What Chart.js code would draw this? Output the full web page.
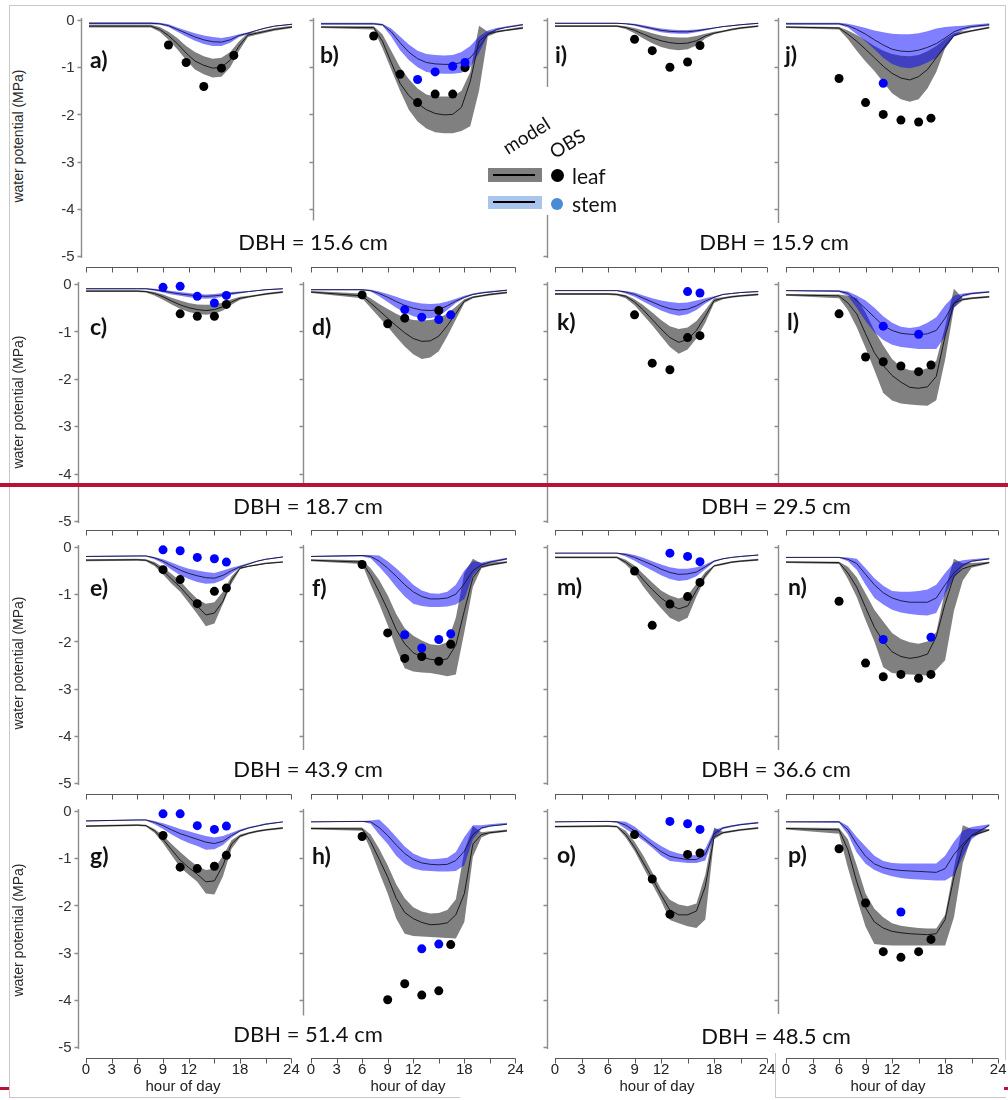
<!DOCTYPE html>
<html>
<head>
<meta charset="utf-8">
<script src="https://cdn.jsdelivr.net/npm/chart.js@4.4.1/dist/chart.umd.min.js"></script>
<style>
  body { margin: 0; background: #fff; }
  #page { position: relative; width: 1008px; height: 1100px; overflow: hidden; background: #fff; }
  #page canvas { position: absolute; z-index: 1; }
  .txt { position: absolute; white-space: nowrap; color: #111; z-index: 3; line-height: 1; }
  .letter { font: bold 23px Lato, sans-serif; transform: translateY(-50%); }
  .dbh { font: 22px Lato, sans-serif; transform: translate(-50%, -50%); }
  .ytitle { font: 14px "Liberation Sans", Arial, sans-serif; color: #2a2a2a; transform: translate(-50%, -50%) rotate(-90deg); }
  .xtitle { font: 15px "Liberation Sans", Arial, sans-serif; color: #222; transform: translate(-50%, -50%); }
  .rule { position: absolute; z-index: 0; }
  .box { position: absolute; z-index: 2; }
</style>
</head>
<body>
<div id="page"></div>
<script>
// hours of the model output
const hours = [0, 6, 7, 8, 9, 10, 11, 12, 13, 14, 15, 16, 17, 18, 19, 20, 21, 23];
// hours of the field measurements
const obsHoursDay = [9, 11, 13, 15, 16.4];
const obsHoursDawn = [6, 9, 11, 13, 15, 16.4];
const hourLabels = [0, 3, 6, 9, 12, 18, 24];
const yLabels = [0, -1, -2, -3, -4, -5];

// a) DBH = 15.6 cm
const leafMid_a = [-0.13, -0.13, -0.13, -0.2, -0.33, -0.5, -0.7, -0.87, -0.96, -1.02, -1.0, -0.85, -0.55, -0.32, -0.28, -0.24, -0.2, -0.15];
const leafLo_a  = [-0.16, -0.16, -0.16, -0.25, -0.42, -0.62, -0.85, -1.05, -1.15, -1.22, -1.2, -1.0, -0.65, -0.36, -0.31, -0.27, -0.23, -0.17];
const leafHi_a  = [-0.1, -0.1, -0.1, -0.15, -0.25, -0.38, -0.55, -0.68, -0.77, -0.82, -0.8, -0.68, -0.45, -0.28, -0.25, -0.21, -0.17, -0.12];
const stemMid_a = [-0.07, -0.07, -0.07, -0.08, -0.12, -0.2, -0.28, -0.36, -0.42, -0.46, -0.47, -0.42, -0.33, -0.28, -0.22, -0.17, -0.13, -0.09];
const stemLo_a  = [-0.09, -0.09, -0.09, -0.1, -0.15, -0.25, -0.35, -0.44, -0.51, -0.55, -0.55, -0.48, -0.36, -0.3, -0.23, -0.18, -0.14, -0.1];
const stemHi_a  = [-0.05, -0.05, -0.05, -0.06, -0.09, -0.16, -0.22, -0.28, -0.33, -0.36, -0.38, -0.35, -0.3, -0.26, -0.21, -0.16, -0.12, -0.08];
const obsLeaf_a = [-0.53, -0.9, -1.41, -1.02, -0.75];
const obsStem_a = [null, null, null, null, null];

// b)
const leafMid_b = [-0.15, -0.16, -0.45, -0.9, -1.34, -1.6, -1.77, -1.9, -1.98, -2.01, -2.0, -1.85, -1.3, -0.45, -0.3, -0.25, -0.22, -0.17];
const leafLo_b  = [-0.17, -0.2, -0.6, -1.05, -1.5, -1.9, -2.15, -2.3, -2.38, -2.4, -2.4, -2.35, -2.25, -1.5, -0.35, -0.27, -0.24, -0.19];
const leafHi_b  = [-0.13, -0.13, -0.3, -0.65, -1.0, -1.25, -1.45, -1.58, -1.62, -1.62, -1.62, -1.5, -1.1, -0.12, -0.25, -0.22, -0.2, -0.14];
const stemMid_b = [-0.08, -0.08, -0.1, -0.25, -0.48, -0.68, -0.82, -0.9, -0.93, -0.94, -0.94, -0.9, -0.8, -0.58, -0.3, -0.2, -0.16, -0.1];
const stemLo_b  = [-0.1, -0.1, -0.12, -0.35, -0.64, -0.85, -1.0, -1.1, -1.13, -1.14, -1.14, -1.12, -1.0, -0.7, -0.32, -0.22, -0.17, -0.11];
const stemHi_b  = [-0.06, -0.06, -0.08, -0.18, -0.35, -0.52, -0.65, -0.72, -0.74, -0.75, -0.74, -0.68, -0.55, -0.35, -0.22, -0.17, -0.14, -0.08];
const obsLeaf_b = [-0.34, -1.15, -1.75, -1.57, -1.57, -1.01];
const obsStem_b = [null, null, -1.26, -1.1, -0.98, -0.9];

// i) DBH = 15.9 cm
const leafMid_i = [-0.13, -0.13, -0.13, -0.16, -0.22, -0.3, -0.38, -0.44, -0.48, -0.5, -0.49, -0.44, -0.34, -0.28, -0.24, -0.2, -0.17, -0.13];
const leafLo_i  = [-0.15, -0.15, -0.15, -0.19, -0.28, -0.39, -0.49, -0.57, -0.62, -0.64, -0.62, -0.54, -0.39, -0.3, -0.26, -0.22, -0.19, -0.15];
const leafHi_i  = [-0.11, -0.11, -0.11, -0.13, -0.17, -0.22, -0.28, -0.33, -0.36, -0.37, -0.37, -0.34, -0.29, -0.25, -0.22, -0.18, -0.15, -0.11];
const stemMid_i = [-0.07, -0.07, -0.07, -0.08, -0.1, -0.14, -0.18, -0.22, -0.24, -0.25, -0.25, -0.23, -0.2, -0.17, -0.14, -0.12, -0.1, -0.07];
const stemLo_i  = [-0.08, -0.08, -0.08, -0.09, -0.12, -0.17, -0.21, -0.26, -0.28, -0.29, -0.29, -0.26, -0.22, -0.18, -0.15, -0.13, -0.11, -0.08];
const stemHi_i  = [-0.06, -0.06, -0.06, -0.07, -0.08, -0.11, -0.15, -0.18, -0.2, -0.21, -0.21, -0.2, -0.18, -0.16, -0.13, -0.11, -0.09, -0.06];
const obsLeaf_i = [-0.41, -0.65, -1.0, -0.89, -0.54];
const obsStem_i = [null, null, null, null, null];

// j)
const leafMid_j = [-0.15, -0.17, -0.3, -0.45, -0.62, -0.8, -0.98, -1.13, -1.23, -1.27, -1.2, -1.05, -0.8, -0.55, -0.33, -0.27, -0.23, -0.16];
const leafLo_j  = [-0.17, -0.2, -0.4, -0.65, -0.88, -1.08, -1.32, -1.55, -1.68, -1.73, -1.68, -1.45, -1.1, -0.6, -0.35, -0.29, -0.25, -0.18];
const leafHi_j  = [-0.13, -0.15, -0.22, -0.32, -0.43, -0.55, -0.65, -0.72, -0.76, -0.77, -0.74, -0.66, -0.55, -0.4, -0.28, -0.24, -0.21, -0.14];
const stemMid_j = [-0.08, -0.08, -0.12, -0.2, -0.3, -0.42, -0.53, -0.62, -0.66, -0.67, -0.64, -0.58, -0.5, -0.38, -0.25, -0.18, -0.14, -0.1];
const stemLo_j  = [-0.1, -0.1, -0.16, -0.3, -0.45, -0.62, -0.8, -0.93, -1.0, -1.02, -0.98, -0.9, -0.8, -0.6, -0.35, -0.22, -0.17, -0.12];
const stemHi_j  = [-0.06, -0.06, -0.08, -0.12, -0.17, -0.22, -0.26, -0.29, -0.3, -0.3, -0.28, -0.24, -0.18, -0.15, -0.13, -0.12, -0.1, -0.07];
const obsLeaf_j = [-1.24, -1.75, -2.0, -2.12, -2.16, -2.08];
const obsStem_j = [null, null, -1.34, null, null, null];

// c) DBH = 18.7 cm
const leafMid_c = [-0.15, -0.15, -0.16, -0.2, -0.27, -0.36, -0.44, -0.5, -0.54, -0.56, -0.54, -0.48, -0.38, -0.3, -0.27, -0.24, -0.21, -0.17];
const leafLo_c  = [-0.17, -0.17, -0.18, -0.24, -0.33, -0.43, -0.52, -0.59, -0.63, -0.65, -0.63, -0.56, -0.44, -0.33, -0.29, -0.26, -0.23, -0.19];
const leafHi_c  = [-0.13, -0.13, -0.14, -0.17, -0.22, -0.29, -0.35, -0.4, -0.43, -0.44, -0.43, -0.39, -0.32, -0.27, -0.25, -0.22, -0.19, -0.15];
const stemMid_c = [-0.1, -0.1, -0.1, -0.12, -0.15, -0.18, -0.21, -0.23, -0.25, -0.26, -0.25, -0.23, -0.2, -0.18, -0.16, -0.14, -0.12, -0.1];
const stemLo_c  = [-0.11, -0.11, -0.11, -0.14, -0.18, -0.22, -0.25, -0.28, -0.3, -0.31, -0.3, -0.27, -0.23, -0.2, -0.17, -0.15, -0.13, -0.11];
const stemHi_c  = [-0.09, -0.09, -0.09, -0.1, -0.12, -0.15, -0.17, -0.19, -0.21, -0.22, -0.21, -0.19, -0.17, -0.16, -0.15, -0.13, -0.11, -0.09];
const obsLeaf_c = [null, -0.63, -0.68, -0.68, -0.43];
const obsStem_c = [-0.07, -0.05, -0.26, -0.4, -0.24];

// d)
const leafMid_d = [-0.17, -0.25, -0.4, -0.56, -0.72, -0.88, -1.03, -1.15, -1.21, -1.2, -1.1, -0.88, -0.62, -0.36, -0.28, -0.25, -0.22, -0.18];
const leafLo_d  = [-0.19, -0.3, -0.5, -0.7, -0.9, -1.12, -1.32, -1.48, -1.58, -1.55, -1.42, -1.1, -0.75, -0.4, -0.3, -0.27, -0.24, -0.2];
const leafHi_d  = [-0.15, -0.2, -0.3, -0.42, -0.53, -0.63, -0.71, -0.76, -0.77, -0.76, -0.72, -0.62, -0.48, -0.32, -0.26, -0.23, -0.2, -0.16];
const stemMid_d = [-0.12, -0.12, -0.14, -0.2, -0.28, -0.37, -0.45, -0.51, -0.55, -0.56, -0.54, -0.46, -0.36, -0.28, -0.22, -0.19, -0.17, -0.13];
const stemLo_d  = [-0.13, -0.13, -0.16, -0.26, -0.38, -0.5, -0.6, -0.68, -0.72, -0.72, -0.68, -0.55, -0.4, -0.3, -0.23, -0.2, -0.18, -0.14];
const stemHi_d  = [-0.11, -0.11, -0.12, -0.16, -0.21, -0.27, -0.33, -0.38, -0.41, -0.42, -0.41, -0.37, -0.31, -0.25, -0.2, -0.17, -0.15, -0.12];
const obsLeaf_d = [-0.23, -0.84, -0.72, null, -0.56, null];
const obsStem_d = [null, null, -0.54, -0.7, -0.75, -0.65];

// k) DBH = 29.5 cm
const leafMid_k = [-0.21, -0.21, -0.22, -0.26, -0.38, -0.55, -0.75, -0.95, -1.13, -1.23, -1.17, -0.98, -0.68, -0.35, -0.3, -0.27, -0.25, -0.22];
const leafLo_k  = [-0.23, -0.23, -0.24, -0.3, -0.45, -0.66, -0.87, -1.1, -1.33, -1.47, -1.38, -1.15, -0.82, -0.4, -0.32, -0.29, -0.27, -0.24];
const leafHi_k  = [-0.19, -0.19, -0.2, -0.23, -0.32, -0.45, -0.6, -0.76, -0.89, -0.95, -0.92, -0.78, -0.55, -0.3, -0.28, -0.25, -0.23, -0.2];
const stemMid_k = [-0.14, -0.14, -0.14, -0.17, -0.22, -0.3, -0.38, -0.46, -0.52, -0.55, -0.53, -0.46, -0.36, -0.28, -0.22, -0.2, -0.18, -0.16];
const stemLo_k  = [-0.15, -0.15, -0.15, -0.2, -0.27, -0.37, -0.47, -0.56, -0.63, -0.67, -0.64, -0.55, -0.41, -0.3, -0.23, -0.21, -0.19, -0.17];
const stemHi_k  = [-0.13, -0.13, -0.13, -0.15, -0.18, -0.24, -0.3, -0.35, -0.38, -0.4, -0.39, -0.35, -0.3, -0.26, -0.21, -0.19, -0.17, -0.15];
const obsLeaf_k = [-0.65, -1.67, -1.81, -1.13, -1.09];
const obsStem_k = [null, null, null, -0.16, -0.19];

// l)
const leafMid_l = [-0.23, -0.25, -0.4, -0.63, -1.05, -1.45, -1.72, -1.93, -2.07, -2.18, -2.2, -2.17, -1.95, -1.1, -0.4, -0.33, -0.3, -0.27];
const leafLo_l  = [-0.25, -0.3, -0.55, -0.91, -1.35, -1.82, -2.3, -2.46, -2.52, -2.54, -2.56, -2.57, -2.45, -1.6, -0.5, -0.35, -0.32, -0.29];
const leafHi_l  = [-0.21, -0.22, -0.25, -0.3, -0.6, -0.98, -1.3, -1.58, -1.75, -1.82, -1.83, -1.78, -1.62, -0.9, -0.1, -0.3, -0.28, -0.25];
const stemMid_l = [-0.14, -0.15, -0.2, -0.35, -0.52, -0.7, -0.88, -0.98, -1.04, -1.06, -1.07, -1.05, -0.98, -0.72, -0.4, -0.24, -0.2, -0.17];
const stemLo_l  = [-0.15, -0.17, -0.25, -0.5, -0.78, -1.02, -1.18, -1.28, -1.33, -1.35, -1.37, -1.37, -1.37, -1.1, -0.5, -0.27, -0.22, -0.18];
const stemHi_l  = [-0.13, -0.13, -0.16, -0.24, -0.35, -0.5, -0.68, -0.82, -0.9, -0.93, -0.9, -0.82, -0.7, -0.45, -0.25, -0.2, -0.18, -0.15];
const obsLeaf_l = [-0.63, -1.54, -1.64, -1.73, -1.85, -1.71];
const obsStem_l = [null, null, -0.89, null, -1.06, null];

// e) DBH = 43.9 cm
const leafMid_e = [-0.28, -0.27, -0.28, -0.36, -0.5, -0.68, -0.85, -1.05, -1.25, -1.44, -1.4, -1.15, -0.7, -0.45, -0.41, -0.38, -0.35, -0.32];
const leafLo_e  = [-0.3, -0.29, -0.3, -0.4, -0.58, -0.78, -0.95, -1.18, -1.42, -1.68, -1.62, -1.2, -0.78, -0.47, -0.42, -0.39, -0.36, -0.33];
const leafHi_e  = [-0.26, -0.25, -0.26, -0.32, -0.43, -0.57, -0.72, -0.92, -1.1, -1.2, -1.17, -0.95, -0.62, -0.43, -0.39, -0.36, -0.33, -0.3];
const stemMid_e = [-0.2, -0.19, -0.19, -0.23, -0.3, -0.4, -0.49, -0.56, -0.61, -0.65, -0.66, -0.6, -0.5, -0.42, -0.36, -0.3, -0.26, -0.21];
const stemLo_e  = [-0.21, -0.2, -0.2, -0.26, -0.35, -0.48, -0.6, -0.68, -0.74, -0.78, -0.77, -0.7, -0.56, -0.44, -0.37, -0.31, -0.27, -0.22];
const stemHi_e  = [-0.19, -0.18, -0.18, -0.21, -0.26, -0.33, -0.4, -0.46, -0.5, -0.53, -0.55, -0.5, -0.44, -0.39, -0.34, -0.29, -0.25, -0.2];
const obsLeaf_e = [-0.48, -0.69, -1.2, -0.94, -0.87];
const obsStem_e = [-0.06, -0.08, -0.22, -0.25, -0.32];

// f)
const leafMid_f = [-0.28, -0.32, -0.6, -0.95, -1.33, -1.75, -2.05, -2.24, -2.33, -2.38, -2.4, -2.37, -2.08, -1.35, -0.65, -0.42, -0.38, -0.32];
const leafLo_f  = [-0.3, -0.36, -0.8, -1.2, -1.65, -2.15, -2.57, -2.64, -2.66, -2.67, -2.7, -2.74, -2.7, -1.8, -0.85, -0.45, -0.4, -0.34];
const leafHi_f  = [-0.26, -0.28, -0.45, -0.7, -1.02, -1.42, -1.72, -1.88, -1.98, -2.06, -2.08, -2.02, -1.5, -0.55, -0.25, -0.35, -0.33, -0.3];
const stemMid_f = [-0.2, -0.18, -0.2, -0.3, -0.45, -0.62, -0.8, -0.95, -1.05, -1.1, -1.1, -1.08, -1.0, -0.78, -0.5, -0.38, -0.32, -0.25];
const stemLo_f  = [-0.21, -0.2, -0.24, -0.42, -0.62, -0.85, -1.05, -1.2, -1.25, -1.27, -1.27, -1.26, -1.22, -1.1, -0.6, -0.4, -0.34, -0.27];
const stemHi_f  = [-0.19, -0.17, -0.17, -0.18, -0.3, -0.45, -0.62, -0.8, -0.92, -0.98, -0.99, -0.95, -0.8, -0.5, -0.3, -0.33, -0.29, -0.23];
const obsLeaf_f = [-0.37, -1.82, -2.36, -2.32, -2.42, -2.06];
const obsStem_f = [null, null, -1.86, -2.14, -1.96, -1.84];

// m) DBH = 36.6 cm
const leafMid_m = [-0.22, -0.22, -0.22, -0.32, -0.47, -0.7, -0.9, -1.08, -1.22, -1.31, -1.25, -0.92, -0.6, -0.4, -0.36, -0.32, -0.3, -0.27];
const leafLo_m  = [-0.24, -0.24, -0.24, -0.37, -0.56, -0.84, -1.08, -1.3, -1.5, -1.59, -1.5, -1.05, -0.66, -0.42, -0.38, -0.34, -0.32, -0.29];
const leafHi_m  = [-0.2, -0.2, -0.2, -0.27, -0.39, -0.57, -0.75, -0.92, -1.03, -1.09, -1.03, -0.78, -0.53, -0.38, -0.34, -0.3, -0.28, -0.25];
const stemMid_m = [-0.13, -0.13, -0.13, -0.16, -0.22, -0.3, -0.38, -0.47, -0.54, -0.58, -0.57, -0.53, -0.42, -0.3, -0.25, -0.22, -0.2, -0.17];
const stemLo_m  = [-0.14, -0.14, -0.14, -0.2, -0.29, -0.4, -0.5, -0.6, -0.68, -0.72, -0.7, -0.62, -0.47, -0.32, -0.26, -0.23, -0.21, -0.18];
const stemHi_m  = [-0.12, -0.12, -0.12, -0.13, -0.17, -0.23, -0.3, -0.37, -0.43, -0.46, -0.46, -0.43, -0.37, -0.28, -0.24, -0.21, -0.19, -0.16];
const obsLeaf_m = [-0.51, -1.66, -1.21, -1.05, -0.75];
const obsStem_m = [null, null, -0.13, -0.2, -0.31];

// n)
const leafMid_n = [-0.32, -0.33, -0.55, -0.85, -1.28, -1.7, -2.0, -2.22, -2.32, -2.36, -2.33, -2.27, -1.9, -1.2, -0.62, -0.46, -0.4, -0.33];
const leafLo_n  = [-0.34, -0.36, -0.68, -1.06, -1.55, -2.0, -2.55, -2.67, -2.69, -2.7, -2.71, -2.72, -2.6, -2.4, -1.35, -0.71, -0.44, -0.35];
const leafHi_n  = [-0.3, -0.31, -0.42, -0.64, -0.98, -1.33, -1.58, -1.82, -1.95, -2.02, -2.05, -2.0, -1.8, -0.92, -0.25, -0.35, -0.34, -0.31];
const stemMid_n = [-0.22, -0.22, -0.26, -0.35, -0.58, -0.8, -0.97, -1.08, -1.14, -1.17, -1.17, -1.17, -1.08, -0.8, -0.55, -0.38, -0.3, -0.25];
const stemLo_n  = [-0.23, -0.23, -0.3, -0.48, -0.8, -1.08, -1.22, -1.33, -1.39, -1.42, -1.44, -1.45, -1.4, -1.0, -0.65, -0.42, -0.32, -0.26];
const stemHi_n  = [-0.21, -0.21, -0.22, -0.25, -0.45, -0.66, -0.82, -0.93, -0.95, -0.95, -0.93, -0.9, -0.8, -0.55, -0.33, -0.28, -0.26, -0.23];
const obsLeaf_n = [-1.15, -2.46, -2.75, -2.7, -2.78, -2.7];
const obsStem_n = [null, null, -1.96, null, null, -1.91];

// g) DBH = 51.4 cm
const leafMid_g = [-0.32, -0.3, -0.31, -0.42, -0.6, -0.82, -1.04, -1.2, -1.34, -1.5, -1.48, -1.15, -0.7, -0.53, -0.47, -0.43, -0.4, -0.36];
const leafLo_g  = [-0.34, -0.32, -0.33, -0.46, -0.68, -0.94, -1.19, -1.35, -1.5, -1.75, -1.77, -1.38, -0.8, -0.56, -0.49, -0.45, -0.42, -0.38];
const leafHi_g  = [-0.3, -0.28, -0.29, -0.38, -0.52, -0.7, -0.87, -1.03, -1.17, -1.25, -1.22, -0.95, -0.62, -0.5, -0.45, -0.41, -0.38, -0.34];
const stemMid_g = [-0.21, -0.19, -0.19, -0.24, -0.31, -0.4, -0.48, -0.54, -0.6, -0.66, -0.69, -0.64, -0.52, -0.42, -0.36, -0.32, -0.28, -0.23];
const stemLo_g  = [-0.22, -0.2, -0.2, -0.28, -0.38, -0.5, -0.6, -0.68, -0.74, -0.82, -0.81, -0.72, -0.56, -0.44, -0.37, -0.33, -0.29, -0.24];
const stemHi_g  = [-0.2, -0.18, -0.18, -0.21, -0.26, -0.32, -0.38, -0.43, -0.48, -0.53, -0.56, -0.53, -0.46, -0.39, -0.34, -0.3, -0.26, -0.22];
const obsLeaf_g = [-0.52, -1.19, -1.22, -1.17, -0.94];
const obsStem_g = [-0.06, -0.06, -0.31, -0.39, -0.32];

// h)
const leafMid_h = [-0.37, -0.38, -0.65, -1.02, -1.4, -1.85, -2.15, -2.28, -2.36, -2.41, -2.4, -2.37, -2.2, -1.75, -0.7, -0.5, -0.46, -0.42];
const leafLo_h  = [-0.39, -0.42, -0.82, -1.3, -1.75, -2.28, -2.6, -2.65, -2.66, -2.67, -2.68, -2.69, -2.7, -2.35, -0.97, -0.56, -0.48, -0.44];
const leafHi_h  = [-0.35, -0.35, -0.5, -0.8, -1.15, -1.55, -1.85, -2.04, -2.13, -2.17, -2.16, -2.1, -1.87, -0.85, -0.32, -0.45, -0.43, -0.39];
const stemMid_h = [-0.23, -0.22, -0.23, -0.35, -0.52, -0.72, -0.9, -1.03, -1.1, -1.13, -1.14, -1.13, -1.05, -0.85, -0.5, -0.36, -0.32, -0.28];
const stemLo_h  = [-0.24, -0.23, -0.27, -0.5, -0.7, -0.95, -1.12, -1.22, -1.26, -1.27, -1.28, -1.28, -1.27, -1.15, -0.6, -0.38, -0.33, -0.29];
const stemHi_h  = [-0.22, -0.21, -0.2, -0.18, -0.35, -0.55, -0.75, -0.9, -0.98, -1.02, -1.01, -0.99, -0.87, -0.55, -0.3, -0.3, -0.28, -0.25];
const obsLeaf_h = [-0.54, -4.0, -3.66, -3.9, -3.81, -2.83];
const obsStem_h = [null, null, null, -2.92, -2.82, null];

// o) DBH = 48.5 cm
const leafMid_o = [-0.33, -0.32, -0.33, -0.5, -0.77, -1.1, -1.42, -1.78, -2.1, -2.2, -2.2, -2.12, -1.6, -0.55, -0.46, -0.43, -0.4, -0.36];
const leafLo_o  = [-0.35, -0.34, -0.35, -0.56, -0.85, -1.2, -1.55, -1.9, -2.31, -2.38, -2.44, -2.48, -2.3, -0.6, -0.48, -0.45, -0.42, -0.38];
const leafHi_o  = [-0.31, -0.3, -0.31, -0.42, -0.65, -0.95, -1.3, -1.65, -1.88, -1.98, -2.02, -1.96, -1.35, -0.35, -0.44, -0.41, -0.38, -0.34];
const stemMid_o = [-0.23, -0.22, -0.23, -0.3, -0.42, -0.57, -0.72, -0.86, -0.96, -1.0, -1.03, -1.03, -0.92, -0.48, -0.36, -0.32, -0.29, -0.25];
const stemLo_o  = [-0.24, -0.23, -0.25, -0.38, -0.5, -0.63, -0.78, -0.95, -1.06, -1.08, -1.1, -1.1, -1.05, -0.55, -0.38, -0.34, -0.3, -0.26];
const stemHi_o  = [-0.22, -0.21, -0.21, -0.23, -0.33, -0.48, -0.62, -0.74, -0.84, -0.9, -0.93, -0.94, -0.8, -0.4, -0.34, -0.3, -0.27, -0.23];
const obsLeaf_o = [-0.5, -1.44, -2.19, -0.92, -0.89];
const obsStem_o = [null, null, -0.22, -0.27, -0.39];

// p)
const leafMid_p = [-0.37, -0.4, -0.82, -1.5, -2.05, -2.35, -2.48, -2.55, -2.58, -2.6, -2.61, -2.62, -2.6, -2.3, -1.4, -0.76, -0.52, -0.4];
const leafLo_p  = [-0.39, -0.48, -1.2, -1.85, -2.45, -2.82, -2.84, -2.85, -2.85, -2.85, -2.85, -2.85, -2.85, -2.85, -2.25, -1.1, -0.55, -0.42];
const leafHi_p  = [-0.35, -0.36, -0.6, -1.15, -1.75, -2.07, -2.25, -2.38, -2.43, -2.46, -2.48, -2.49, -2.49, -2.2, -1.2, -0.3, -0.38, -0.38];
const stemMid_p = [-0.23, -0.23, -0.4, -0.7, -0.96, -1.12, -1.2, -1.24, -1.26, -1.27, -1.28, -1.29, -1.3, -1.22, -0.92, -0.7, -0.52, -0.3];
const stemLo_p  = [-0.24, -0.25, -0.5, -0.88, -1.12, -1.25, -1.33, -1.38, -1.42, -1.44, -1.45, -1.46, -1.47, -1.47, -1.36, -0.97, -0.6, -0.32];
const stemHi_p  = [-0.22, -0.21, -0.32, -0.55, -0.75, -0.95, -1.06, -1.1, -1.11, -1.11, -1.11, -1.11, -1.11, -0.95, -0.65, -0.42, -0.34, -0.28];
const obsLeaf_p = [-0.8, -1.95, -2.98, -3.1, -2.98, -2.72];
const obsStem_p = [null, null, null, -2.14, null, null];

const dbhLabels = ['DBH = 15.6 cm', 'DBH = 15.9 cm', 'DBH = 18.7 cm', 'DBH = 29.5 cm',
                   'DBH = 43.9 cm', 'DBH = 36.6 cm', 'DBH = 51.4 cm', 'DBH = 48.5 cm'];

// colours
const GRAY_BAND = 'rgb(128,128,128)';
const BLUE_BAND = 'rgba(0,0,255,0.5)';

// layout of each panel: x0 = pixel of hour 0, px = pixels per hour, y0 = pixel of 0 MPa, unit = pixels per MPa
const panels = [
  {k: 'a', x0: 89,  px: 8.83, y0: 20,    unit: 47.2, yEnd: -5.04, labels: true,  top: false, bottom: false, obs: obsHoursDay,  lx: 90,  ly: 59},
  {k: 'b', x0: 321, px: 8.78, y0: 20,    unit: 47.2, yEnd: -4.25, labels: false, top: false, bottom: false, obs: obsHoursDawn, lx: 320, ly: 54},
  {k: 'i', x0: 555, px: 8.84, y0: 20,    unit: 47.2, yEnd: -5.04, labels: false, top: false, bottom: false, obs: obsHoursDay,  lx: 555, ly: 54},
  {k: 'j', x0: 786, px: 8.84, y0: 20,    unit: 47.2, yEnd: -4.3,  labels: false, top: false, bottom: false, obs: obsHoursDawn, lx: 785, ly: 54},
  {k: 'c', x0: 86,  px: 8.56, y0: 283.5, unit: 47.4, yEnd: -5.04, labels: true,  top: true,  bottom: false, obs: obsHoursDay,  lx: 90,  ly: 326},
  {k: 'd', x0: 311, px: 8.52, y0: 283.5, unit: 47.4, yEnd: -4.25, labels: false, top: true,  bottom: false, obs: obsHoursDawn, lx: 312, ly: 326},
  {k: 'k', x0: 555, px: 8.84, y0: 283.5, unit: 47.4, yEnd: -5.04, labels: false, top: true,  bottom: false, obs: obsHoursDay,  lx: 557, ly: 321},
  {k: 'l', x0: 786, px: 8.84, y0: 283.5, unit: 47.4, yEnd: -4.25, labels: false, top: true,  bottom: false, obs: obsHoursDawn, lx: 787, ly: 321},
  {k: 'e', x0: 86,  px: 8.56, y0: 546.7, unit: 47.2, yEnd: -5.04, labels: true,  top: true,  bottom: false, obs: obsHoursDay,  lx: 90,  ly: 587},
  {k: 'f', x0: 311, px: 8.52, y0: 546.7, unit: 47.2, yEnd: -4.3,  labels: false, top: true,  bottom: false, obs: obsHoursDawn, lx: 312, ly: 587},
  {k: 'm', x0: 555, px: 8.84, y0: 546.7, unit: 47.2, yEnd: -5.04, labels: false, top: true,  bottom: false, obs: obsHoursDay,  lx: 557, ly: 586},
  {k: 'n', x0: 786, px: 8.84, y0: 546.7, unit: 47.2, yEnd: -4.3,  labels: false, top: true,  bottom: false, obs: obsHoursDawn, lx: 788, ly: 586},
  {k: 'g', x0: 86,  px: 8.56, y0: 810.7, unit: 47.2, yEnd: -5.04, labels: true,  top: true,  bottom: true,  obs: obsHoursDay,  lx: 90,  ly: 855},
  {k: 'h', x0: 311, px: 8.52, y0: 810.7, unit: 47.2, yEnd: -4.33, labels: false, top: true,  bottom: true,  obs: obsHoursDawn, lx: 312, ly: 855},
  {k: 'o', x0: 555, px: 8.84, y0: 810.7, unit: 47.2, yEnd: -5.04, labels: false, top: true,  bottom: true,  obs: obsHoursDay,  lx: 557, ly: 854},
  {k: 'p', x0: 786, px: 8.84, y0: 810.7, unit: 47.2, yEnd: -4.3,  labels: false, top: true,  bottom: true,  obs: obsHoursDawn, lx: 788, ly: 854}
];

const series = {
  a: [leafLo_a, leafHi_a, leafMid_a, stemLo_a, stemHi_a, stemMid_a, obsLeaf_a, obsStem_a],
  b: [leafLo_b, leafHi_b, leafMid_b, stemLo_b, stemHi_b, stemMid_b, obsLeaf_b, obsStem_b],
  i: [leafLo_i, leafHi_i, leafMid_i, stemLo_i, stemHi_i, stemMid_i, obsLeaf_i, obsStem_i],
  j: [leafLo_j, leafHi_j, leafMid_j, stemLo_j, stemHi_j, stemMid_j, obsLeaf_j, obsStem_j],
  c: [leafLo_c, leafHi_c, leafMid_c, stemLo_c, stemHi_c, stemMid_c, obsLeaf_c, obsStem_c],
  d: [leafLo_d, leafHi_d, leafMid_d, stemLo_d, stemHi_d, stemMid_d, obsLeaf_d, obsStem_d],
  k: [leafLo_k, leafHi_k, leafMid_k, stemLo_k, stemHi_k, stemMid_k, obsLeaf_k, obsStem_k],
  l: [leafLo_l, leafHi_l, leafMid_l, stemLo_l, stemHi_l, stemMid_l, obsLeaf_l, obsStem_l],
  e: [leafLo_e, leafHi_e, leafMid_e, stemLo_e, stemHi_e, stemMid_e, obsLeaf_e, obsStem_e],
  f: [leafLo_f, leafHi_f, leafMid_f, stemLo_f, stemHi_f, stemMid_f, obsLeaf_f, obsStem_f],
  m: [leafLo_m, leafHi_m, leafMid_m, stemLo_m, stemHi_m, stemMid_m, obsLeaf_m, obsStem_m],
  n: [leafLo_n, leafHi_n, leafMid_n, stemLo_n, stemHi_n, stemMid_n, obsLeaf_n, obsStem_n],
  g: [leafLo_g, leafHi_g, leafMid_g, stemLo_g, stemHi_g, stemMid_g, obsLeaf_g, obsStem_g],
  h: [leafLo_h, leafHi_h, leafMid_h, stemLo_h, stemHi_h, stemMid_h, obsLeaf_h, obsStem_h],
  o: [leafLo_o, leafHi_o, leafMid_o, stemLo_o, stemHi_o, stemMid_o, obsLeaf_o, obsStem_o],
  p: [leafLo_p, leafHi_p, leafMid_p, stemLo_p, stemHi_p, stemMid_p, obsLeaf_p, obsStem_p]
};

const page = document.getElementById('page');

// axes in the Excel style: the y axis sits a bit left of hour 0, the hour axes sit above each row
const panelAxes = {
  id: 'panelAxes',
  beforeDatasetsDraw(chart, args, o) {
    const {ctx} = chart;
    const xs = chart.scales.x, ys = chart.scales.y;
    ctx.save();

    // y axis
    const ax = Math.round(xs.getPixelForValue(-0.95)) + 0.5;
    ctx.strokeStyle = '#8c8c8c';
    ctx.lineWidth = 1.4;
    ctx.beginPath();
    ctx.moveTo(ax, ys.getPixelForValue(0.04));
    ctx.lineTo(ax, ys.getPixelForValue(o.yEnd));
    yLabels.forEach(v => {
      if (v < o.yEnd) return;
      const py = Math.round(ys.getPixelForValue(v)) + 0.5;
      ctx.moveTo(ax - 4, py);
      ctx.lineTo(ax, py);
    });
    ctx.stroke();

    if (o.labels) {
      ctx.fillStyle = '#333';
      ctx.font = '15px "Liberation Sans", Arial, sans-serif';
      ctx.textAlign = 'right';
      ctx.textBaseline = 'middle';
      yLabels.forEach(v => ctx.fillText(String(v), ax - 7, ys.getPixelForValue(v) + 1));
    }

    // hour axes
    const hourAxis = (py, withLabels) => {
      py = Math.round(py) + 0.5;
      ctx.strokeStyle = '#595959';
      ctx.lineWidth = 1;
      ctx.beginPath();
      ctx.moveTo(xs.getPixelForValue(0), py);
      ctx.lineTo(xs.getPixelForValue(24), py);
      for (let hr = 0; hr <= 24; hr += 3) {
        const px = Math.round(xs.getPixelForValue(hr)) + 0.5;
        ctx.moveTo(px, py);
        ctx.lineTo(px, py + 5);
      }
      ctx.stroke();
      if (withLabels) {
        ctx.fillStyle = '#222';
        ctx.font = '15px "Liberation Sans", Arial, sans-serif';
        ctx.textAlign = 'center';
        ctx.textBaseline = 'top';
        hourLabels.forEach(hr => ctx.fillText(String(hr), xs.getPixelForValue(hr), py + 4));
      }
    };
    if (o.top) hourAxis(ys.getPixelForValue(0) - 17.5, false);
    if (o.bottom) hourAxis(ys.getPixelForValue(-5) + 10.5, true);

    ctx.restore();
  }
};

const pts = (xs, ys) => xs.map((x, i) => ({x: x, y: ys[i]}));

panels.forEach(p => {
  const [leafLo, leafHi, leafMid, stemLo, stemHi, stemMid, obsLeaf, obsStem] = series[p.k];
  const padL = 45, padT = 24;
  const padB = p.bottom ? 36 : 14;
  const w = 24 * p.px, h = 5 * p.unit;
  const cw = Math.ceil(w + padL + 14);
  const chh = Math.ceil(h + padT + padB);

  const cv = document.createElement('canvas');
  cv.width = cw;
  cv.height = chh;
  cv.style.left = (p.x0 - padL) + 'px';
  cv.style.top = (p.y0 - padT) + 'px';
  page.appendChild(cv);

  const band = (data, order, color) => ({
    data: data, order: order, fill: color ? '-1' : false, backgroundColor: color || 'transparent',
    borderColor: 'transparent', borderWidth: 0, pointRadius: 0, clip: false
  });

  new Chart(cv, {
    type: 'line',
    data: {
      datasets: [
        band(pts(hours, leafLo), 7),
        band(pts(hours, leafHi), 6, GRAY_BAND),
        {data: pts(hours, leafMid), order: 3, borderColor: '#1a1a1a', borderWidth: 1, pointRadius: 0, fill: false, clip: false},
        band(pts(hours, stemLo), 5),
        band(pts(hours, stemHi), 4, BLUE_BAND),
        {data: pts(hours, stemMid), order: 2, borderColor: '#1e1e4a', borderWidth: 1, pointRadius: 0, fill: false, clip: false},
        {data: pts(p.obs, obsLeaf), order: 1, showLine: false, pointRadius: 4.5, pointBackgroundColor: '#000', pointBorderWidth: 0, clip: false},
        {data: pts(p.obs, obsStem), order: 0, showLine: false, pointRadius: 4.5, pointBackgroundColor: '#0000ff', pointBorderWidth: 0, clip: false}
      ]
    },
    options: {
      responsive: false,
      animation: false,
      events: [],
      layout: {padding: {left: padL, top: padT, right: cw - padL - w, bottom: chh - padT - h}},
      elements: {line: {tension: 0}},
      scales: {
        x: {type: 'linear', min: 0, max: 24, display: false},
        y: {type: 'linear', min: -5, max: 0, display: false}
      },
      plugins: {
        legend: {display: false},
        tooltip: {enabled: false},
        panelAxes: {yEnd: p.yEnd, labels: p.labels, top: p.top, bottom: p.bottom}
      }
    },
    plugins: [panelAxes]
  });

  // panel letter
  const t = document.createElement('div');
  t.className = 'txt letter';
  t.style.left = p.lx + 'px';
  t.style.top = p.ly + 'px';
  t.textContent = p.k + ')';
  page.appendChild(t);
});

// text helper
function addText(cls, text, x, y) {
  const d = document.createElement('div');
  d.className = 'txt ' + cls;
  d.style.left = x + 'px';
  d.style.top = y + 'px';
  d.textContent = text;
  page.appendChild(d);
  return d;
}

// DBH captions, two per row
const dbhPos = [[313, 241], [774, 241], [308, 505], [776, 505], [308, 768], [776, 768], [308, 1033], [776, 1035]];
dbhLabels.forEach((s, i) => addText('dbh', s, dbhPos[i][0], dbhPos[i][1]));

// axis titles
[136, 402, 663, 930].forEach(y => addText('ytitle', 'water potential (MPa)', 18, y));
[183, 408, 657, 888].forEach(x => addText('xtitle', 'hour of day', x, 1085));

// slide frame and the red rule
function addRule(x, y, w, h, color, z) {
  const d = document.createElement('div');
  d.className = 'rule';
  Object.assign(d.style, {left: x + 'px', top: y + 'px', width: w + 'px', height: h + 'px', background: color});
  if (z) d.style.zIndex = z;
  page.appendChild(d);
}
addRule(9, 5, 997, 1, '#c8c8c8');
addRule(9, 5, 1, 1092, '#c8c8c8');
addRule(1005, 5, 1, 1055, '#c8c8c8');
addRule(9, 1097, 451, 1, '#c8c8c8');
addRule(775, 1097, 231, 1, '#c8c8c8');
addRule(775, 1053, 1, 44, '#c8c8c8');
addRule(0, 483, 1008, 4, '#b81238', 4);
addRule(0, 1087, 9, 3, '#b81238');
addRule(1004, 1087, 4, 3, '#b81238');

// legend (white box hides the axis of panel i, as in the original)
const lg = document.createElement('div');
lg.className = 'box';
Object.assign(lg.style, {left: '531px', top: '87px', width: '98px', height: '128px', background: '#fff'});
page.appendChild(lg);

function addSwatch(x, y, w, h, color, radius) {
  const d = document.createElement('div');
  d.className = 'box';
  Object.assign(d.style, {left: x + 'px', top: y + 'px', width: w + 'px', height: h + 'px', background: color, zIndex: 3});
  if (radius) d.style.borderRadius = '50%';
  page.appendChild(d);
}
addSwatch(488, 168, 54, 14, '#7f7f7f');
addSwatch(493, 174, 42, 2, '#000');
addSwatch(551, 169, 13, 13, '#000', true);
addSwatch(488, 196, 54, 13, '#a9c5ee');
addSwatch(493, 201, 42, 2, '#000');
addSwatch(551, 198, 12, 12, '#4a8ad6', true);

const lgFont = '21px Lato, sans-serif';
const m1 = addText('', 'model', 526, 135);
Object.assign(m1.style, {font: '19px Lato, sans-serif', transform: 'translate(-50%,-50%) rotate(-32deg)'});
const m2 = addText('', 'OBS', 567, 143);
Object.assign(m2.style, {font: '19px Lato, sans-serif', transform: 'translate(-50%,-50%) rotate(-31deg)'});
const l1 = addText('', 'leaf', 572, 175);
Object.assign(l1.style, {font: lgFont, transform: 'translateY(-50%)'});
const l2 = addText('', 'stem', 572, 203);
Object.assign(l2.style, {font: lgFont, transform: 'translateY(-50%)'});
</script>
</body>
</html>
